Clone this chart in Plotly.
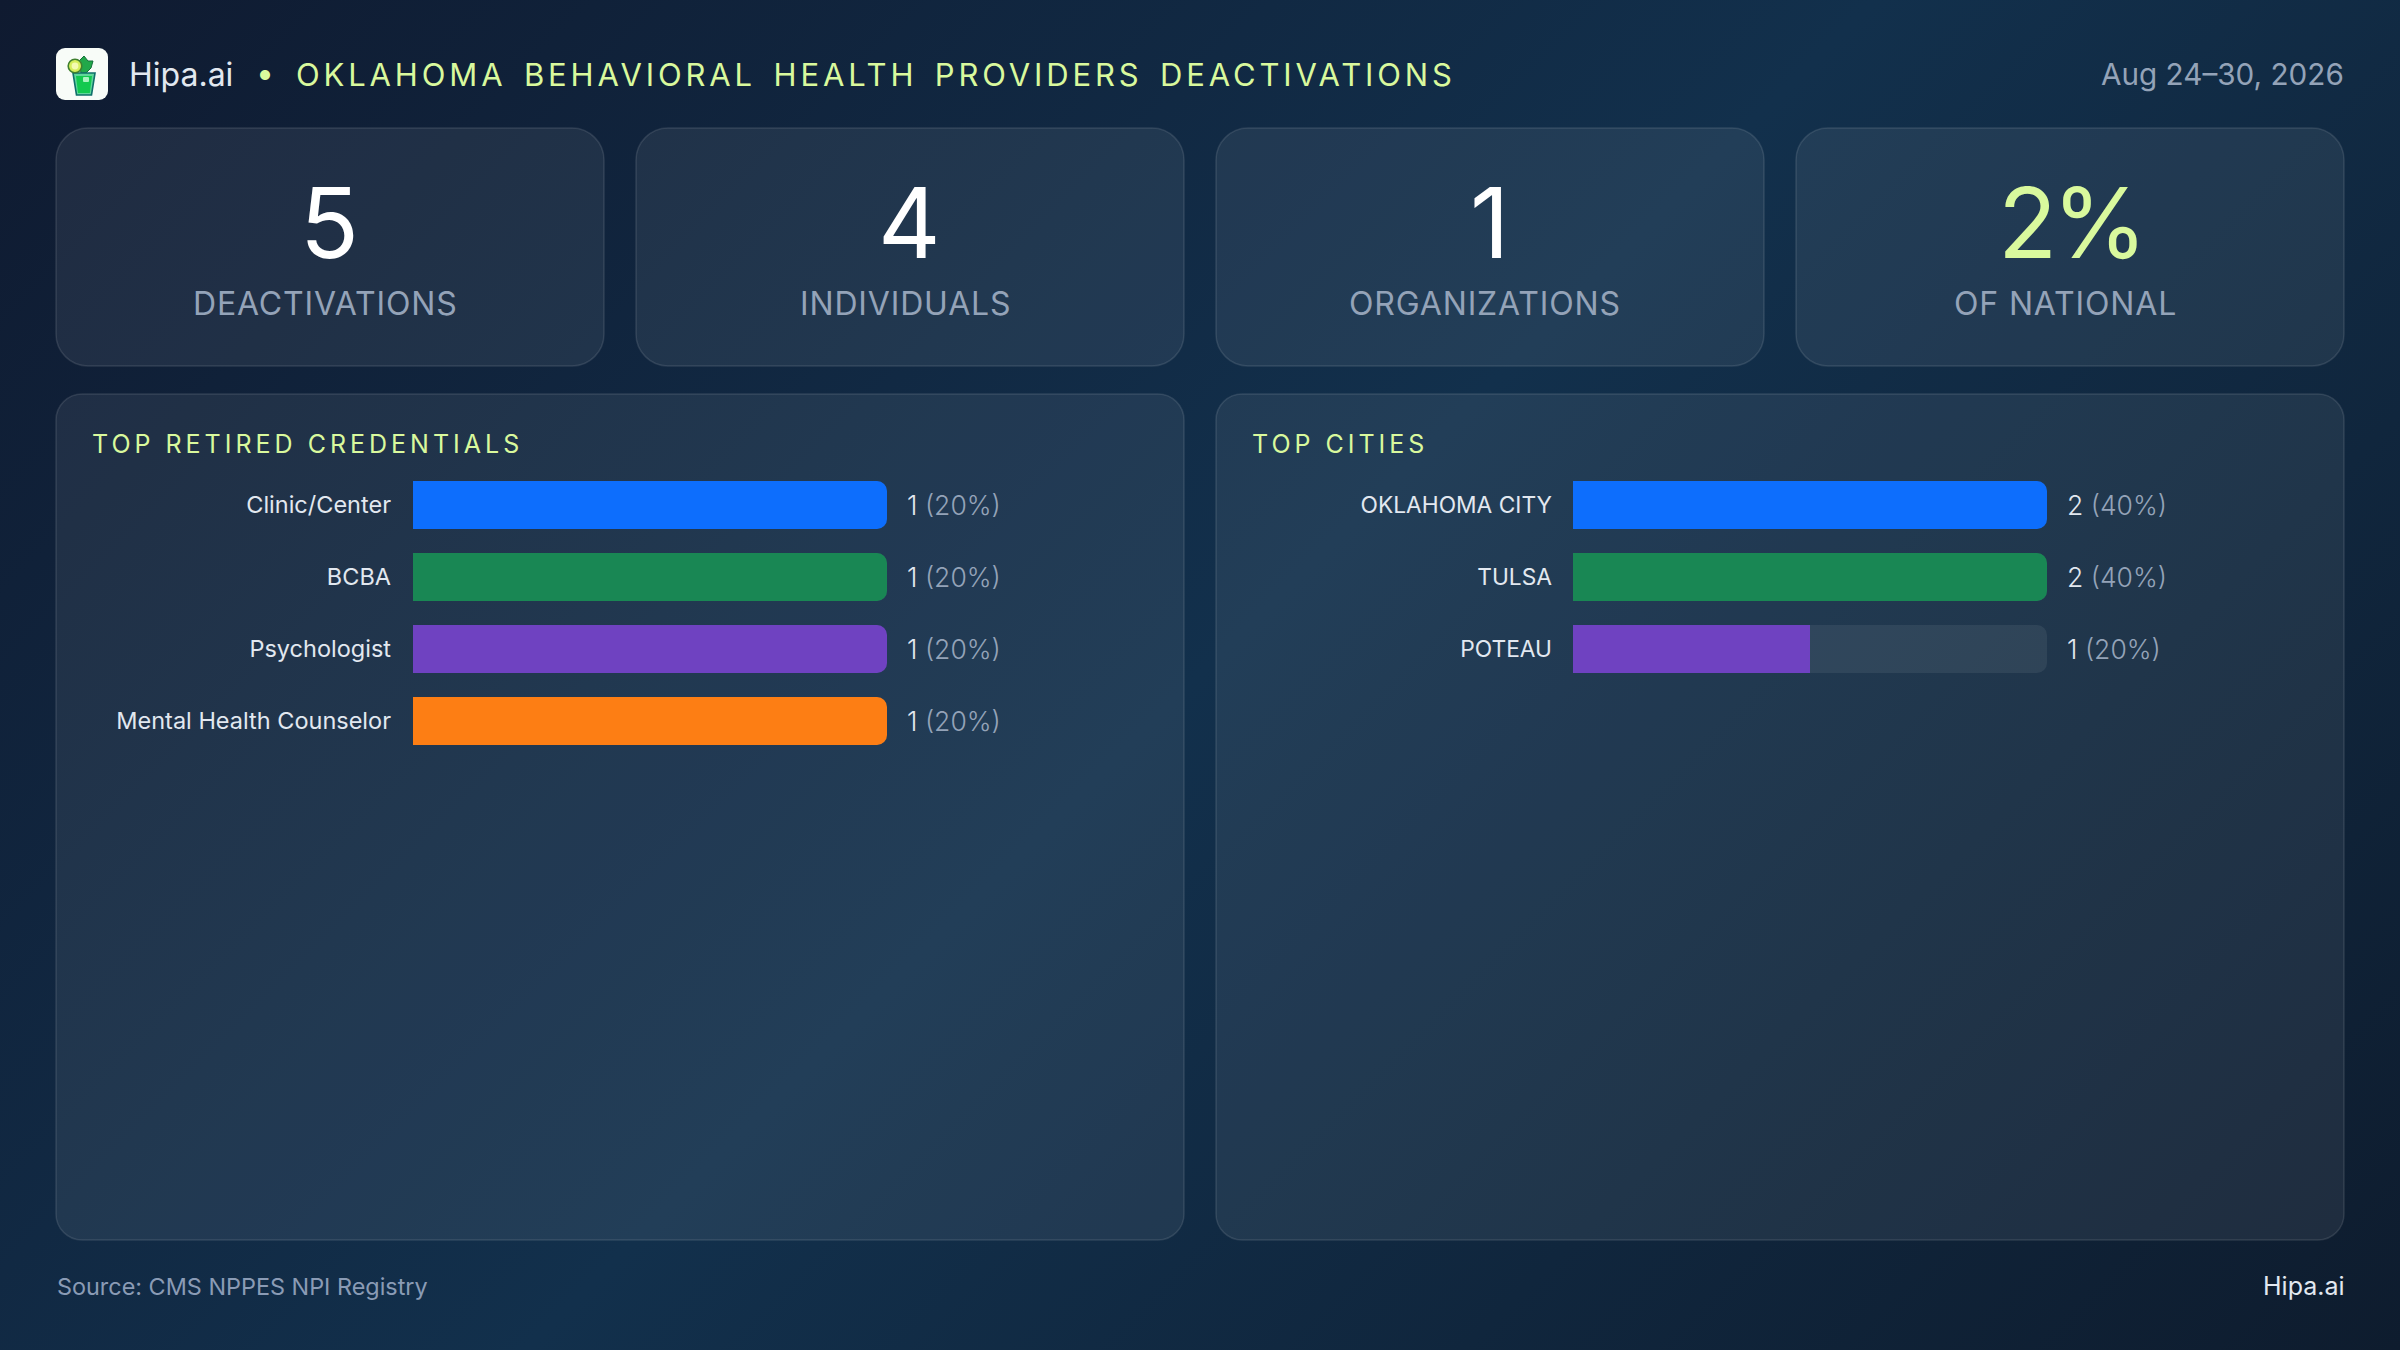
import base64
import plotly.graph_objects as go

pageWidth = 2400
pageHeight = 1350
fontName = 'Inter'

statValues = ['5', '4', '1', '2%']
statLabels = ['DEACTIVATIONS', 'INDIVIDUALS', 'ORGANIZATIONS', 'OF NATIONAL']
statColors = ['#ffffff', '#ffffff', '#ffffff', '#d9f99d']

credentialLabels = ['Clinic/Center', 'BCBA', 'Psychologist', 'Mental Health Counselor']
credentialCounts = [1, 1, 1, 1]
credentialShares = [20, 20, 20, 20]

cityLabels = ['OKLAHOMA CITY', 'TULSA', 'POTEAU']
cityCounts = [2, 2, 1]
cityShares = [40, 40, 20]

barColors = ['#0d6efd', '#198754', '#6f42c1', '#fd7e14']
trackColor = 'rgba(255,255,255,0.07)'

def toDataUri(svg):
  return 'data:image/svg+xml;base64,' + base64.b64encode(svg.encode()).decode()

# CSS style 135deg gradient for the whole page
backgroundSvg = f'''<svg xmlns="http://www.w3.org/2000/svg" width="{pageWidth}" height="{pageHeight}">
<defs><linearGradient id="g" gradientUnits="userSpaceOnUse" x1="262.5" y1="-262.5" x2="2137.5" y2="1612.5">
<stop offset="0" stop-color="#0f1a30"/><stop offset="0.5" stop-color="#12304c"/><stop offset="1" stop-color="#0e1c2e"/>
</linearGradient></defs>
<rect width="{pageWidth}" height="{pageHeight}" fill="url(#g)"/></svg>'''

logoSvg = '''<svg xmlns="http://www.w3.org/2000/svg" width="52" height="52" viewBox="0 0 52 52">
<rect width="52" height="52" rx="9" fill="#f8fcf8"/>
<path d="M24 19 L23 13 L28 8 L32 13 L37 13 L35 20 L30 25 L25 25 Z" fill="#22a84a" stroke="#14703a" stroke-width="1"/>
<path d="M17 25 H39 L35.5 47 H20.5 Z" fill="#5fd69a" stroke="#0f6f6a" stroke-width="1.6"/>
<path d="M20 28 H36 L33.8 45 H22 Z" fill="#12c94f"/>
<rect x="27" y="29" width="6" height="5" rx="1" fill="#a7f3c0"/>
<circle cx="19" cy="18" r="6.8" fill="#d5ee5c" stroke="#3f7f2f" stroke-width="1.6"/>
<circle cx="19" cy="18" r="3.4" fill="#f4fbb0"/>
</svg>'''

def px(x):
  return x / pageWidth

def py(y):
  return 1 - y / pageHeight

def roundedBox(x0, y0, x1, y1, r):
  k = r * 0.45
  points = [
    f'M{px(x0 + r)},{py(y0)}',
    f'L{px(x1 - r)},{py(y0)}',
    f'C{px(x1 - k)},{py(y0)} {px(x1)},{py(y0 + k)} {px(x1)},{py(y0 + r)}',
    f'L{px(x1)},{py(y1 - r)}',
    f'C{px(x1)},{py(y1 - k)} {px(x1 - k)},{py(y1)} {px(x1 - r)},{py(y1)}',
    f'L{px(x0 + r)},{py(y1)}',
    f'C{px(x0 + k)},{py(y1)} {px(x0)},{py(y1 - k)} {px(x0)},{py(y1 - r)}',
    f'L{px(x0)},{py(y0 + r)}',
    f'C{px(x0)},{py(y0 + k)} {px(x0 + k)},{py(y0)} {px(x0 + r)},{py(y0)} Z',
  ]
  return dict(
    type = 'path',
    xref = 'paper',
    yref = 'paper',
    path = ' '.join(points),
    fillcolor = 'rgba(255,255,255,0.07)',
    line = dict(color = 'rgba(255,255,255,0.11)', width = 1.5),
    layer = 'below',
  )

def spaced(text, spacing, wordSpacing = 0):
  return f'<span style="letter-spacing:{spacing}px;word-spacing:{wordSpacing}px">{text}</span>'

def label(text, x, y, size, color, anchor = 'left', weight = 400):
  return dict(
    text = text,
    x = px(x),
    y = py(y),
    xref = 'paper',
    yref = 'paper',
    xanchor = anchor,
    align = anchor,
    yanchor = 'middle',
    showarrow = False,
    font = dict(family = fontName, size = size, color = color, weight = weight),
  )

def barPanel(fig, labels, counts, axisId, left, right, top, tickSize, standoff):
  xMax = max(counts)
  rowHeight = 72
  yName = 'y' if axisId == 1 else f'y{axisId}'
  xName = 'x' if axisId == 1 else f'x{axisId}'

  fig.add_trace(go.Bar(
    y = labels,
    x = [xMax] * len(labels),
    orientation = 'h',
    marker = dict(color = trackColor, line = dict(width = 0)),
    width = 48 / rowHeight,
    xaxis = xName,
    yaxis = yName,
    hoverinfo = 'skip',
  ))
  fig.add_trace(go.Bar(
    y = labels,
    x = counts,
    orientation = 'h',
    marker = dict(color = barColors[:len(labels)], line = dict(width = 0)),
    width = 48 / rowHeight,
    xaxis = xName,
    yaxis = yName,
  ))

  suffix = '' if axisId == 1 else str(axisId)
  fig.update_layout({
    f'xaxis{suffix}': dict(
      domain = [px(left), px(right)],
      range = [0, xMax],
      visible = False,
      anchor = yName,
    ),
    f'yaxis{suffix}': dict(
      domain = [py(top + rowHeight * len(labels)), py(top)],
      range = [len(labels) - 0.5, -0.5],
      type = 'category',
      categoryorder = 'array',
      categoryarray = labels,
      anchor = xName,
      showline = False,
      showgrid = False,
      zeroline = False,
      ticks = '',
      ticklabelstandoff = standoff,
      tickfont = dict(family = fontName, size = tickSize, color = '#e2e8f0'),
    ),
  })

def valueLabels(labels, counts, shares, axisId):
  xName = 'x' if axisId == 1 else f'x{axisId}'
  yName = 'y' if axisId == 1 else f'y{axisId}'
  result = []
  for name, count, share in zip(labels, counts, shares):
    result.append(dict(
      text = f'<span style="color:#e2e8f0">{count}</span> ({share}%)',
      x = max(counts),
      y = name,
      xref = xName,
      yref = yName,
      xshift = 18,
      xanchor = 'left',
      align = 'left',
      yanchor = 'middle',
      showarrow = False,
      font = dict(family = fontName, size = 26.5, color = '#94a3b8', weight = 300),
    ))
  return result

fig = go.Figure()
barPanel(fig, credentialLabels, credentialCounts, 1, 413, 887, 469, 23.5, 21)
barPanel(fig, cityLabels, cityCounts, 2, 1573, 2047, 469, 22.75, 20)

cardLefts = [56, 636, 1216, 1796]
cardWidth = 548
shapes = [roundedBox(x, 128, x + cardWidth, 366, 32) for x in cardLefts]
shapes += [roundedBox(56, 394, 1184, 1240, 26), roundedBox(1216, 394, 2344, 1240, 26)]

annotations = [
  label('Hipa.ai', 126.5, 74, 32, '#e2e8f0'),
  label('•', 265, 73, 32, '#d9f99d', 'center'),
  label(spaced('OKLAHOMA BEHAVIORAL HEALTH PROVIDERS DEACTIVATIONS', 3.85, 5), 294, 74, 31, '#d9f99d'),
  label('Aug 24–30, 2026', 2345.5, 74, 29.7, '#94a3b8', 'right'),
  label(spaced('TOP RETIRED CREDENTIALS', 4), 89.5, 444, 25, '#d9f99d'),
  label(spaced('TOP CITIES', 4), 1249.5, 444, 25, '#d9f99d'),
  label('Source: CMS NPPES NPI Registry', 55, 1286, 23.4, '#8a9bb5'),
  label('Hipa.ai', 2347, 1286, 25, '#e2e8f0', 'right'),
]
for left, value, name, color in zip(cardLefts, statValues, statLabels, statColors):
  center = left + cardWidth / 2
  numberShift = -3 if len(value) == 1 else 0
  annotations.append(label(spaced(value, -5), center + numberShift, 222.5, 97, color, 'center', 400))
  annotations.append(label(spaced(name, 0.85), center - 5, 304, 32, '#94a3b8', 'center'))
annotations += valueLabels(credentialLabels, credentialCounts, credentialShares, 1)
annotations += valueLabels(cityLabels, cityCounts, cityShares, 2)

fig.update_layout(
  width = pageWidth,
  height = pageHeight,
  margin = dict(l = 0, r = 0, t = 0, b = 0, pad = 0),
  paper_bgcolor = '#0f1a30',
  plot_bgcolor = 'rgba(0,0,0,0)',
  barmode = 'overlay',
  barcornerradius = 10,
  showlegend = False,
  shapes = shapes,
  annotations = annotations,
  images = [
    dict(
      source = toDataUri(backgroundSvg),
      xref = 'paper', yref = 'paper',
      x = 0, y = 1, sizex = 1, sizey = 1,
      xanchor = 'left', yanchor = 'top',
      sizing = 'stretch', layer = 'below',
    ),
    dict(
      source = toDataUri(logoSvg),
      xref = 'paper', yref = 'paper',
      x = px(56), y = py(48), sizex = px(52), sizey = 52 / pageHeight,
      xanchor = 'left', yanchor = 'top',
      sizing = 'stretch', layer = 'below',
    ),
  ],
)

fig.write_html("out.html", config = {'displayModeBar': False}, post_script = "document.body.style.margin = '0';")
